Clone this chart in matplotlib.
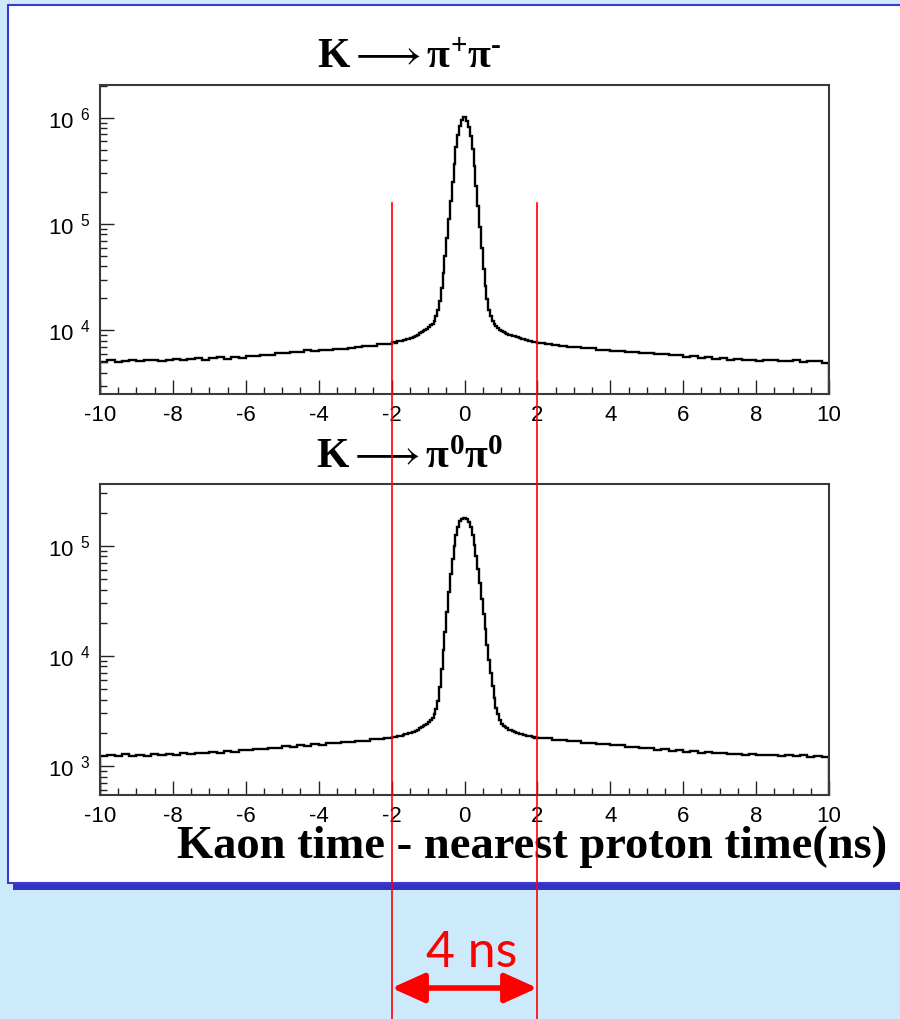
import numpy as np
import matplotlib
matplotlib.use("Agg")
import matplotlib.pyplot as plt
import matplotlib.transforms as mtransforms
from matplotlib.patches import Rectangle, FancyArrowPatch
from matplotlib.lines import Line2D
from matplotlib.ticker import MultipleLocator, LogLocator, FuncFormatter, NullFormatter

plt.rcParams['font.family'] = ['Liberation Sans', 'DejaVu Sans']
plt.rcParams['axes.unicode_minus'] = False
plt.rcParams['mathtext.fontset'] = 'custom'
plt.rcParams['mathtext.rm'] = 'Liberation Serif'
plt.rcParams['mathtext.bf'] = 'Liberation Serif:bold'
plt.rcParams['mathtext.it'] = 'Liberation Serif:italic'
plt.rcParams['mathtext.fallback'] = 'stix'

# bin edges (ns): 0.2 ns in the tails, 0.05 ns around the peak
edges = np.concatenate([np.linspace(-10, -2, 41)[:-1],
                        np.linspace(-2, 2, 81)[:-1],
                        np.linspace(2, 10, 41)])

# K -> pi+ pi- (counts per bin)
pipm_left = [5000, 5200, 5050, 5150, 5250, 5100, 5200, 5300, 5150, 5250,
             5350, 5200, 5350, 5450, 5300, 5450, 5550, 5400, 5600, 5500,
             5700, 5750, 5900, 5900, 6100, 6150, 6300, 6250, 6450, 6400,
             6550, 6500, 6700, 6650, 6850, 6900, 7050, 7150, 7350, 7500]
pipm_core = [7670, 7800, 7650, 7850, 7990, 7880, 8060, 8130, 8260, 8320,
             8450, 8510, 8710, 8910, 9120, 9330, 9550, 9770, 10000, 10350,
             10720, 11090, 11480, 12300, 13490, 15490, 19050, 25120, 34670, 50120,
             74130, 112200, 165960, 251190, 371540, 537030, 691830, 831760, 954990, 1023290,
             1023290, 933250, 812830, 676080, 512860, 354810, 229090, 147910, 93330, 58880,
             38020, 26300, 19500, 15490, 13490, 12300, 11480, 10960, 10470, 10120,
             9890, 9660, 9440, 9300, 9120, 9020, 8750, 8760, 8610, 8560,
             8410, 8360, 8220, 8180, 8030, 7990, 7850, 7800, 7720, 7670]
pipm_right = [7550, 7400, 7250, 7150, 6950, 6950, 6750, 6750, 6550, 6550,
              6400, 6400, 6250, 6300, 6100, 6150, 5950, 6000, 5800, 5850,
              5650, 5700, 5500, 5550, 5400, 5450, 5300, 5350, 5200, 5300,
              5150, 5200, 5250, 5100, 5150, 5200, 5050, 5100, 5150, 4950]

# K -> pi0 pi0 (counts per bin)
pi0_left = [1220, 1270, 1230, 1280, 1240, 1270, 1230, 1280, 1250, 1290,
            1260, 1300, 1290, 1310, 1310, 1340, 1320, 1360, 1350, 1390,
            1390, 1430, 1430, 1470, 1470, 1510, 1500, 1540, 1530, 1570,
            1560, 1600, 1600, 1650, 1650, 1700, 1700, 1750, 1760, 1800]
pi0_core = [1820, 1850, 1820, 1870, 1860, 1890, 1900, 1940, 1940, 1980,
            1990, 2030, 2040, 2090, 2140, 2190, 2240, 2290, 2340, 2400,
            2510, 2630, 2750, 2950, 3310, 3890, 5250, 7590, 11220, 16600,
            25120, 38020, 54950, 75860, 100000, 125890, 147910, 165960, 175790, 177830,
            177830, 173780, 164060, 147910, 125890, 102330, 81280, 61660, 45710, 33110,
            23990, 17380, 12590, 9120, 6920, 5370, 4170, 3390, 2950, 2630,
            2400, 2290, 2240, 2190, 2140, 2110, 2090, 2050, 2000, 2010,
            1960, 1960, 1920, 1910, 1870, 1870, 1860, 1850, 1810, 1820]
pi0_right = [1800, 1780, 1730, 1730, 1680, 1680, 1630, 1630, 1580, 1580,
             1540, 1540, 1490, 1490, 1450, 1450, 1410, 1420, 1380, 1390,
             1350, 1360, 1320, 1330, 1300, 1310, 1280, 1290, 1260, 1280,
             1250, 1260, 1270, 1230, 1260, 1220, 1250, 1210, 1240, 1200]

window = [-2, 2]          # timing cut (ns)
window_label = "4 ns"

W, H = 900, 1019


def fx(x):
    return x / W


def fy(y):
    return 1 - y / H


fig = plt.figure(figsize=(W / 100, H / 100), dpi=100)
fig.patch.set_facecolor('#cceafc')

# slide panel with drop shadow
fig.add_artist(Rectangle((fx(13), fy(890)), 1.0, (890 - 12) / H, transform=fig.transFigure,
                         facecolor='#3434c4', edgecolor='none', zorder=-3))
fig.add_artist(Rectangle((fx(8), fy(883)), 1.0, (883 - 5) / H, transform=fig.transFigure,
                         facecolor='white', edgecolor='#3a3ad0', lw=1.5, zorder=-2))

ax1 = fig.add_axes([fx(100), fy(394), (829 - 100) / W, (394 - 85) / H])
ax2 = fig.add_axes([fx(100), fy(795), (829 - 100) / W, (795 - 484) / H])

log_fmt = FuncFormatter(lambda v, pos: r'$\mathregular{10^{\ \ %d}}$' % round(np.log10(v)))

for ax, vals, ylim in [(ax1, pipm_left + pipm_core + pipm_right, (2510, 2.04e6)),
                       (ax2, pi0_left + pi0_core + pi0_right, (545, 3.63e5))]:
    ax.stairs(vals, edges, color='black', lw=1.7)
    ax.set_yscale('log')
    ax.set_xlim(-10, 10)
    ax.set_ylim(*ylim)
    ax.set_facecolor('white')
    ax.xaxis.set_major_locator(MultipleLocator(2))
    ax.xaxis.set_minor_locator(MultipleLocator(0.5))
    ax.yaxis.set_major_locator(LogLocator(base=10))
    ax.yaxis.set_minor_locator(LogLocator(base=10, subs=np.arange(2, 10)))
    ax.yaxis.set_major_formatter(log_fmt)
    ax.yaxis.set_minor_formatter(NullFormatter())
    ax.tick_params(which='both', direction='in', top=False, right=False, width=1.0, color='#222222')
    ax.tick_params(which='major', length=10, labelsize=16)
    ax.tick_params(which='minor', length=5)
    ax.tick_params(axis='x', pad=8)
    ax.tick_params(axis='y', pad=7)
    for s in ax.spines.values():
        s.set_color('#3a3a3a')
        s.set_linewidth(1.5)

fig.text(fx(409), fy(68), '$\\mathbf{K}\\longrightarrow\\mathbf{\\pi^{+}\\pi^{\u2010}}$', fontsize=30,
         ha='center', va='baseline')
fig.text(fx(410), fy(468), r'$\mathbf{K}\longrightarrow\mathbf{\pi^{0}\pi^{0}}$', fontsize=30,
         ha='center', va='baseline')
fig.text(fx(532), fy(858), 'Kaon time - nearest proton time(ns)', fontsize=33.5,
         family='Liberation Serif', weight='bold', ha='center', va='baseline')

# timing window lines and arrow
trans = mtransforms.blended_transform_factory(ax1.transData, fig.transFigure)
for w in window:
    fig.add_artist(Line2D([w, w], [fy(203), 0], transform=trans, color='red', lw=1.2, zorder=5))

fig.add_artist(FancyArrowPatch((window[0], fy(988)), (window[1], fy(988)), transform=trans,
                               arrowstyle='<|-|>,head_length=20,head_width=9',
                               shrinkA=0, shrinkB=0, color='red', lw=4, zorder=6))
fig.text(fx(472), fy(967), window_label, fontsize=36, family='Lato', color='red',
         ha='center', va='baseline')

fig.savefig('out.png', dpi=100, facecolor=fig.get_facecolor())
